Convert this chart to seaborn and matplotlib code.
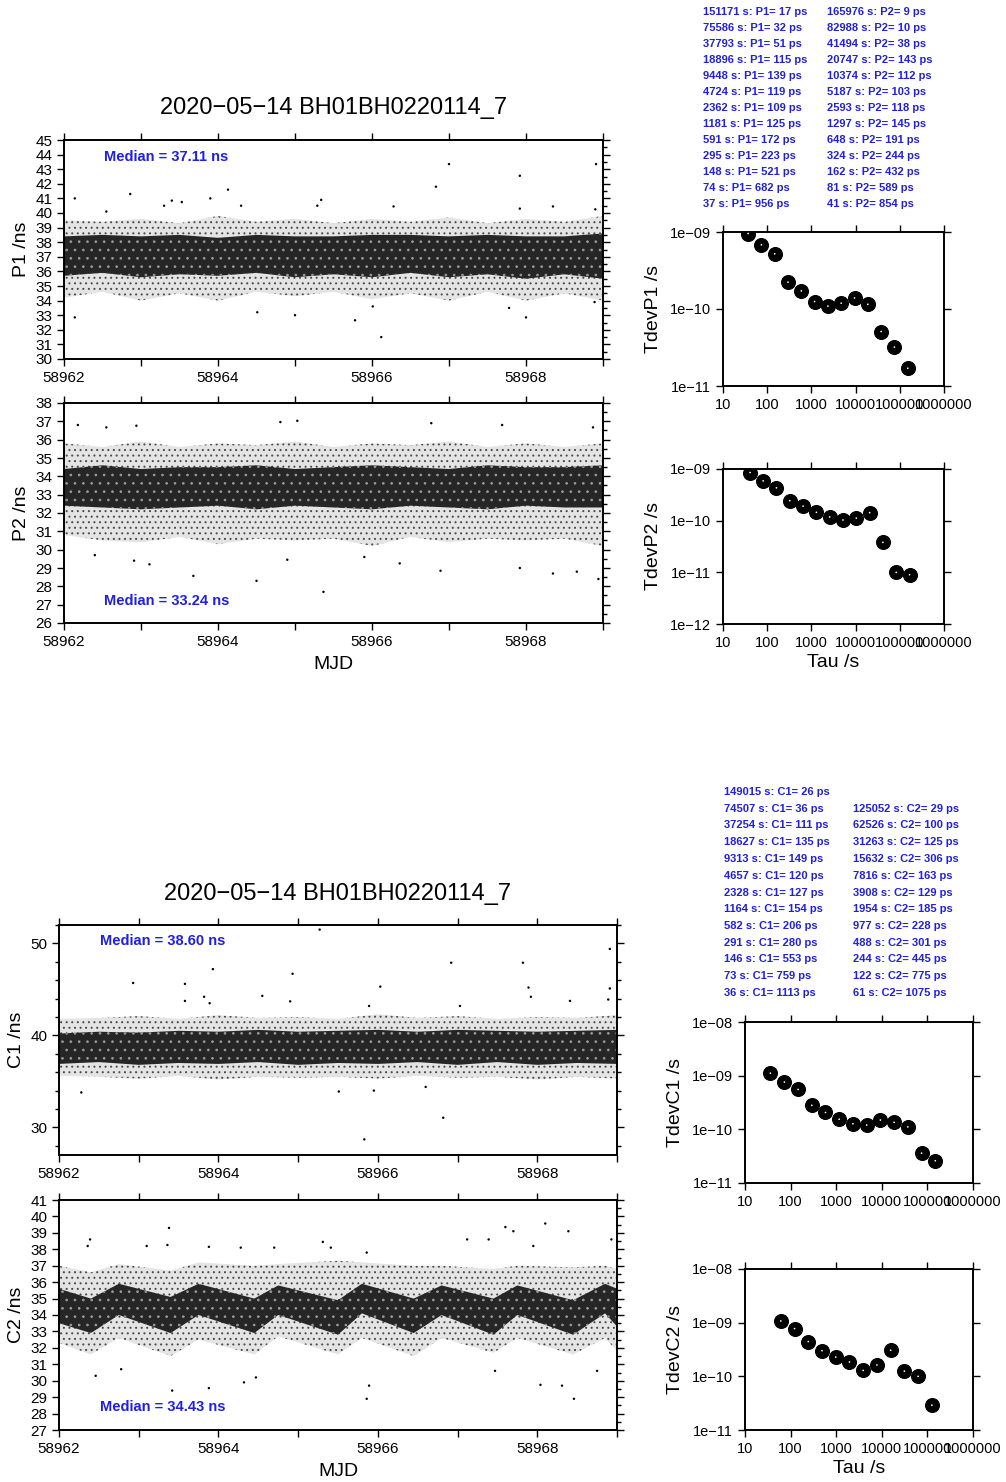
import seaborn as sns
import matplotlib.pyplot as plt
import matplotlib.ticker as mticker
import pandas as pd

# ---- data ----
title = "2020\u221205\u221214 BH01BH0220114_7"

# time series bands (dense core and sparse halo), sampled every half day
grid = [58962.0, 58962.5, 58963.0, 58963.5, 58964.0, 58964.5, 58965.0, 58965.5,
        58966.0, 58966.5, 58967.0, 58967.5, 58968.0, 58968.5, 58969.0]

p1_core_hi = [38.4, 38.5, 38.4, 38.5, 38.3, 38.5, 38.4, 38.4, 38.5, 38.5, 38.4, 38.5, 38.4, 38.4, 38.6]
p1_core_lo = [35.7, 35.9, 35.6, 35.8, 35.7, 35.9, 35.6, 35.8, 35.6, 35.9, 35.6, 35.8, 35.5, 35.8, 35.5]
p1_halo_hi = [39.5, 39.4, 39.6, 39.3, 39.8, 39.4, 39.6, 39.3, 39.6, 39.4, 39.7, 39.3, 39.6, 39.4, 39.8]
p1_halo_lo = [34.2, 34.6, 34.0, 34.5, 34.0, 34.6, 34.3, 34.6, 34.1, 34.5, 34.0, 34.6, 34.0, 34.5, 34.0]
p1_out_x = [58962.14, 58962.14, 58962.86, 58962.55, 58963.3, 58963.4, 58963.53, 58963.9, 58964.13,
            58964.3, 58964.51, 58965.0, 58965.29, 58965.34, 58965.78, 58966.12, 58966.28, 58966.83,
            58967.0, 58967.92, 58967.92, 58968.0, 58968.35, 58968.91, 58968.9, 58966.01, 58967.78,
            58968.89]
p1_out_y = [41.0, 32.85, 41.3, 40.1, 40.5, 40.85, 40.75, 41.0, 41.6,
            40.5, 33.2, 33.0, 40.5, 40.9, 32.65, 31.5, 40.45, 41.8,
            43.35, 42.55, 40.3, 32.85, 40.45, 43.35, 40.25, 33.6, 33.5,
            33.9]

p2_core_hi = [34.4, 34.6, 34.4, 34.5, 34.5, 34.6, 34.4, 34.5, 34.6, 34.5, 34.4, 34.6, 34.5, 34.5, 34.6]
p2_core_lo = [32.4, 32.3, 32.2, 32.3, 32.4, 32.2, 32.4, 32.3, 32.2, 32.4, 32.3, 32.2, 32.4, 32.3, 32.3]
p2_halo_hi = [35.8, 35.6, 35.9, 35.6, 35.8, 35.7, 35.9, 35.6, 35.8, 35.7, 35.9, 35.6, 35.8, 35.6, 35.8]
p2_halo_lo = [30.8, 30.5, 30.4, 30.7, 30.3, 30.6, 30.5, 30.6, 30.2, 30.7, 30.4, 30.6, 30.5, 30.6, 30.2]
p2_out_x = [58962.18, 58962.55, 58962.94, 58964.81, 58965.03, 58966.77, 58967.69, 58968.87,
            58962.4, 58962.91, 58963.11, 58963.68, 58964.5, 58964.9, 58965.37, 58966.36,
            58966.89, 58967.92, 58968.35, 58968.66, 58968.94, 58965.9]
p2_out_y = [36.8, 36.67, 36.76, 36.96, 37.03, 36.9, 36.8, 36.67,
            29.7, 29.4, 29.2, 28.57, 28.3, 29.45, 27.7, 29.25,
            28.85, 29.0, 28.7, 28.8, 28.4, 29.6]

c1_core_hi = [40.2, 40.4, 40.3, 40.5, 40.4, 40.6, 40.4, 40.5, 40.6, 40.4, 40.6, 40.5, 40.4, 40.5, 40.6]
c1_core_lo = [36.9, 37.1, 36.8, 37.0, 36.9, 37.1, 36.8, 37.0, 36.9, 37.1, 36.8, 37.1, 36.8, 37.0, 36.9]
c1_halo_hi = [41.8, 41.9, 42.1, 41.8, 42.2, 41.9, 42.0, 41.8, 42.3, 41.9, 42.1, 41.8, 42.0, 41.9, 42.2]
c1_halo_lo = [35.6, 35.5, 35.3, 35.6, 35.2, 35.5, 35.4, 35.5, 35.3, 35.6, 35.4, 35.5, 35.2, 35.5, 35.3]
c1_out_x = [58962.28, 58962.93, 58963.58, 58963.58, 58963.82, 58963.93, 58963.89, 58964.55, 58964.93,
            58965.27, 58964.9, 58965.51, 58965.83, 58965.95, 58966.03, 58966.82, 58966.92, 58967.03,
            58967.82, 58967.89, 58967.92, 58968.41, 58968.91, 58968.91, 58968.89, 58965.89, 58966.6]
c1_out_y = [33.8, 45.7, 45.6, 43.75, 44.2, 47.2, 43.5, 44.3, 46.7,
            51.5, 43.7, 33.9, 28.7, 34.0, 45.3, 31.05, 47.9, 43.2,
            47.9, 45.2, 44.2, 43.75, 49.4, 45.1, 43.9, 43.2, 34.4]

# C2 has a clear daily wave, so its band is sampled at the crests and troughs
c2_grid = [58962.0, 58962.4, 58962.75, 58963.4, 58963.75, 58964.45, 58964.75, 58965.5,
           58965.8, 58966.45, 58966.8, 58967.45, 58967.75, 58968.45, 58968.85, 58969.0]
c2_core_hi = [35.6, 35.0, 35.9, 35.1, 35.9, 35.0, 35.8, 34.9, 35.9, 35.0, 35.8, 35.0, 35.8, 34.9, 35.9, 35.6]
c2_core_lo = [33.5, 32.9, 34.0, 32.9, 34.0, 32.9, 34.0, 32.8, 34.1, 32.9, 34.0, 32.8, 34.0, 32.8, 34.1, 33.3]
c2_halo_hi = [37.0, 36.6, 37.1, 36.7, 37.2, 37.0, 37.1, 37.3, 37.2, 37.0, 37.0, 36.8, 37.0, 36.9, 37.0, 36.8]
c2_halo_lo = [32.3, 31.6, 32.6, 31.5, 32.5, 31.6, 32.7, 31.6, 32.6, 31.5, 32.6, 31.7, 32.6, 31.6, 32.6, 31.8]
c2_out_x = [58962.39, 58962.36, 58962.46, 58962.78, 58963.1, 58963.38, 58963.36, 58963.42, 58963.88,
            58963.88, 58964.28, 58964.32, 58964.47, 58964.7, 58965.31, 58965.41, 58965.86, 58965.89,
            58965.86, 58967.12, 58967.39, 58967.47, 58967.6, 58967.7, 58967.95, 58968.04, 58968.1,
            58968.31, 58968.39, 58968.46, 58968.93, 58968.75]
c2_out_y = [38.6, 38.2, 30.3, 30.7, 38.2, 39.3, 38.26, 29.4, 29.55,
            38.15, 38.1, 29.9, 30.2, 38.1, 38.45, 38.1, 28.9, 29.7,
            37.8, 38.6, 38.6, 30.6, 39.35, 39.1, 38.2, 29.75, 39.57,
            29.7, 39.1, 28.9, 38.6, 30.6]

# TDEV tables (tau in s, tdev in ps)
p1_tau = [151171, 75586, 37793, 18896, 9448, 4724, 2362, 1181, 591, 295, 148, 74, 37]
p1_tdev = [17, 32, 51, 115, 139, 119, 109, 125, 172, 223, 521, 682, 956]
p2_tau = [165976, 82988, 41494, 20747, 10374, 5187, 2593, 1297, 648, 324, 162, 81, 41]
p2_tdev = [9, 10, 38, 143, 112, 103, 118, 145, 191, 244, 432, 589, 854]
c1_tau = [149015, 74507, 37254, 18627, 9313, 4657, 2328, 1164, 582, 291, 146, 73, 36]
c1_tdev = [26, 36, 111, 135, 149, 120, 127, 154, 206, 280, 553, 759, 1113]
c2_tau = [125052, 62526, 31263, 15632, 7816, 3908, 1954, 977, 488, 244, 122, 61]
c2_tdev = [29, 100, 125, 306, 163, 129, 185, 228, 301, 445, 775, 1075]

sns.set_style("ticks")
plt.rcParams['font.family'] = ['Liberation Sans', 'DejaVu Sans']
plt.rcParams.update({'text.color': 'black', 'axes.labelcolor': 'black',
                     'xtick.color': 'black', 'ytick.color': 'black',
                     'axes.edgecolor': 'black', 'hatch.linewidth': 0.7})

W, H = 1006, 1482
fig = plt.figure(figsize=(W / 100, H / 100), dpi=100)
BLUE = '#1f1fe6'


def box(left, top, right, bottom):
    return [left / W, 1 - bottom / H, (right - left) / W, (bottom - top) / H]


def frame(ax):
    for s in ax.spines.values():
        s.set_linewidth(1.4)
        s.set_visible(True)
    ax.tick_params(which='both', direction='out', top=True, right=True,
                   width=1.0, labelsize=11, colors='black')
    ax.tick_params(which='major', length=5)
    ax.tick_params(which='minor', length=3)


def ts_panel(rect, gx, core_lo, core_hi, halo_lo, halo_hi, ox, oy, ylim, major, minor,
             ylabel, med, med_y, med_va, mjd_label=False, minor_left=False):
    ax = fig.add_axes(rect)
    # sparse halo as a stipple, dense core as dark fill with light speckle
    ax.fill_between(gx, halo_lo, halo_hi, facecolor='#e4e4e4', edgecolor='#4a4a4a',
                    hatch='...', lw=0)
    ax.fill_between(gx, core_lo, core_hi, facecolor='#262626', edgecolor='#9a9a9a',
                    hatch='..', lw=0)
    sns.scatterplot(x=ox, y=oy, ax=ax, s=3, color='black', edgecolor='none', legend=False)
    ax.set_xlim(58962, 58969)
    ax.set_ylim(*ylim)
    ax.xaxis.set_major_locator(mticker.MultipleLocator(1))
    ax.xaxis.set_major_formatter(mticker.FuncFormatter(
        lambda v, p: f"{v:.0f}" if round(v) % 2 == 0 else ""))
    ax.yaxis.set_major_locator(mticker.MultipleLocator(major))
    ax.yaxis.set_minor_locator(mticker.MultipleLocator(minor))
    ax.yaxis.set_major_formatter(mticker.FuncFormatter(lambda v, p: f"{v:.0f}"))
    frame(ax)
    ax.tick_params(axis='y', which='minor', left=minor_left)
    ax.set_ylabel(ylabel, fontsize=14, labelpad=4)
    ax.set_xlabel("MJD" if mjd_label else "", fontsize=14, labelpad=5)
    ax.text(0.074, med_y, med, transform=ax.transAxes, color=BLUE, fontsize=10.5,
            fontweight='bold', va=med_va, ha='left')
    return ax


def tdev_panel(rect, tau, tdev, ylim, ylabels, ylabel, tau_label=False):
    ax = fig.add_axes(rect)
    df = pd.DataFrame({'tau': tau, 'tdev': [v * 1e-12 for v in tdev]})
    sns.scatterplot(data=df, x='tau', y='tdev', ax=ax, s=100, color='black',
                    edgecolor='black', linewidth=0.8, legend=False, zorder=3)
    sns.scatterplot(data=df, x='tau', y='tdev', ax=ax, s=1.5, color='white',
                    edgecolor='none', legend=False, zorder=4)
    ax.set_xscale('log')
    ax.set_yscale('log')
    ax.set_xlim(10, 1e6)
    ax.set_ylim(*ylim)
    xt = [10, 100, 1000, 10000, 100000, 1000000]
    ax.xaxis.set_major_locator(mticker.FixedLocator(xt))
    ax.xaxis.set_major_formatter(mticker.FixedFormatter([str(v) for v in xt]))
    ax.xaxis.set_minor_locator(mticker.NullLocator())
    yt = [float(s.replace('\u2212', '-')) for s in ylabels]
    ax.yaxis.set_major_locator(mticker.FixedLocator(yt))
    ax.yaxis.set_major_formatter(mticker.FixedFormatter(ylabels))
    ax.yaxis.set_minor_locator(mticker.NullLocator())
    frame(ax)
    ax.tick_params(labelsize=10.5)
    ax.set_ylabel(ylabel, fontsize=14, labelpad=6)
    ax.set_xlabel("Tau /s" if tau_label else "", fontsize=14, labelpad=3)
    return ax


def table(x_left, x_right, y0, dy, left_rows, right_rows, right_offset):
    for i, t in enumerate(left_rows):
        fig.text(x_left / W, 1 - (y0 + i * dy) / H, t, color=BLUE, fontsize=8,
                 fontweight='bold', va='center', ha='left')
    for i, t in enumerate(right_rows):
        fig.text(x_right / W, 1 - (y0 + (i + right_offset) * dy) / H, t, color=BLUE,
                 fontsize=8, fontweight='bold', va='center', ha='left')


# ---- top group: P1 / P2 ----
ax = ts_panel(box(64, 140, 603, 359), grid, p1_core_lo, p1_core_hi, p1_halo_lo, p1_halo_hi,
              p1_out_x, p1_out_y, (30, 45), 1, 0.5, "P1 /ns", "Median = 37.11 ns", 0.955, 'top')
ax.set_title(title, fontsize=17, pad=19)
ts_panel(box(64, 403, 603, 623), grid, p2_core_lo, p2_core_hi, p2_halo_lo, p2_halo_hi,
         p2_out_x, p2_out_y, (26, 38), 1, 0.5, "P2 /ns", "Median = 33.24 ns", 0.1, 'center',
         mjd_label=True)

tdev_panel(box(723, 232, 944, 386), p1_tau, p1_tdev, (1e-11, 1e-9),
           ["1e\u221211", "1e\u221210", "1e\u221209"], "TdevP1 /s")
tdev_panel(box(723, 469, 944, 624), p2_tau, p2_tdev, (1e-12, 1e-9),
           ["1e\u221212", "1e\u221211", "1e\u221210", "1e\u221209"], "TdevP2 /s", tau_label=True)

table(703, 827, 12, 16,
      [f"{t} s: P1= {v} ps" for t, v in zip(p1_tau, p1_tdev)],
      [f"{t} s: P2= {v} ps" for t, v in zip(p2_tau, p2_tdev)], 0)

# ---- bottom group: C1 / C2 ----
ax = ts_panel(box(59, 925, 617, 1155), grid, c1_core_lo, c1_core_hi, c1_halo_lo, c1_halo_hi,
              c1_out_x, c1_out_y, (27, 52), 10, 2, "C1 /ns", "Median = 38.60 ns", 0.96, 'top',
              minor_left=True)
ax.set_title(title, fontsize=17, pad=18)
ts_panel(box(59, 1200, 617, 1430), c2_grid, c2_core_lo, c2_core_hi, c2_halo_lo, c2_halo_hi,
         c2_out_x, c2_out_y, (27, 41), 1, 0.5, "C2 /ns", "Median = 34.43 ns", 0.1, 'center',
         mjd_label=True)

tdev_panel(box(745, 1022, 973, 1183), c1_tau, c1_tdev, (1e-11, 1e-8),
           ["1e\u221211", "1e\u221210", "1e\u221209", "1e\u221208"], "TdevC1 /s")
tdev_panel(box(745, 1269, 973, 1430), c2_tau, c2_tdev, (1e-11, 1e-8),
           ["1e\u221211", "1e\u221210", "1e\u221209", "1e\u221208"], "TdevC2 /s", tau_label=True)

table(724, 853, 792, 16.75,
      [f"{t} s: C1= {v} ps" for t, v in zip(c1_tau, c1_tdev)],
      [f"{t} s: C2= {v} ps" for t, v in zip(c2_tau, c2_tdev)], 1)

fig.savefig("out.png", dpi=100, facecolor='white')
